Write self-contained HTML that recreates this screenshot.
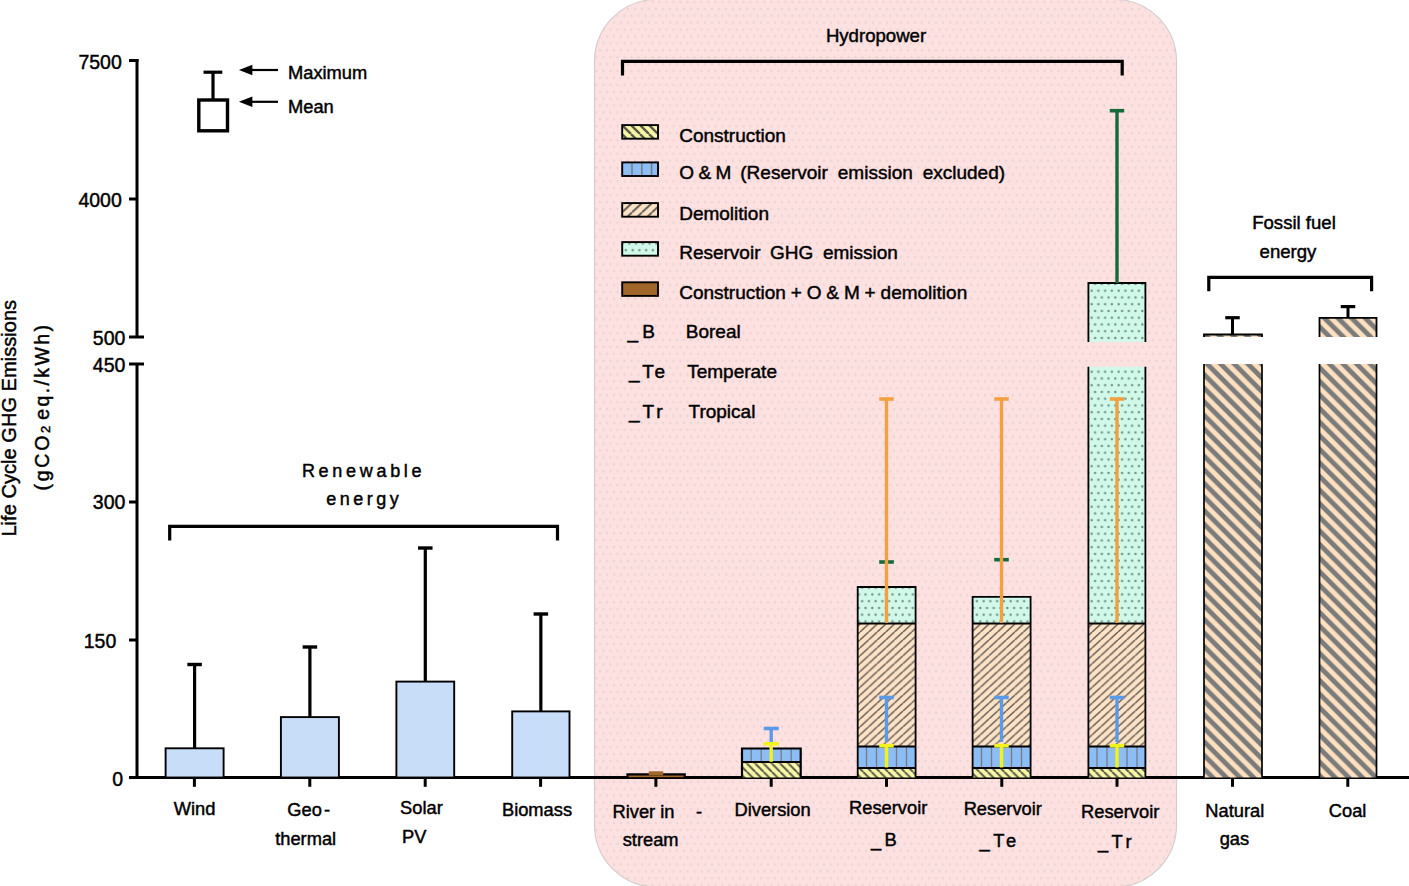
<!DOCTYPE html>
<html><head><meta charset="utf-8"><style>
html,body{margin:0;padding:0;background:#fff;width:1409px;height:886px;overflow:hidden}
svg text{font-family:"Liberation Sans", sans-serif;fill:#000;stroke:#000;stroke-width:0.45px}
</style></head><body>
<svg width="1409" height="886" viewBox="0 0 1409 886" style="position:absolute;left:0;top:0">
<defs>
 <pattern id="pinkdots" patternUnits="userSpaceOnUse" width="7" height="13.8">
  <rect width="7" height="13.8" fill="#fde1e1"/>
  <circle cx="1.5" cy="2" r="1.15" fill="#ebd4d4"/>
  <circle cx="5" cy="8.9" r="1.15" fill="#ebd4d4"/>
 </pattern>
 <pattern id="resdots" patternUnits="userSpaceOnUse" width="6.75" height="13.5" x="3.2" y="4.3">
  <rect width="6.75" height="13.5" fill="#d0f9ea"/>
  <circle cx="1.7" cy="3" r="1.2" fill="#71907f"/>
  <circle cx="5.1" cy="9.75" r="1.2" fill="#71907f"/>
 </pattern>
 <pattern id="demol" patternUnits="userSpaceOnUse" width="8.6" height="7.9">
  <rect width="8.6" height="7.9" fill="#fde2c5"/>
  <path d="M-8.6,7.9 L0,0 M0,7.9 L8.6,0 M8.6,7.9 L17.2,0" stroke="#625c56" stroke-width="1.45"/>
 </pattern>
 <pattern id="constr" patternUnits="userSpaceOnUse" width="8.3" height="8.3">
  <rect width="8.3" height="8.3" fill="#f7f7a8"/>
  <path d="M-8.3,0 L0,8.3 M0,0 L8.3,8.3 M8.3,0 L16.6,8.3" stroke="#5c5a48" stroke-width="2.0"/>
 </pattern>
 <pattern id="demolL" patternUnits="userSpaceOnUse" width="10" height="9.4" x="622" y="203">
  <rect width="10" height="9.4" fill="#fde2c5"/>
  <path d="M-10,9.4 L0,0 M0,9.4 L10,0 M10,9.4 L20,0" stroke="#625c56" stroke-width="1.9"/>
 </pattern>
 <pattern id="constrL" patternUnits="userSpaceOnUse" width="9" height="9" x="622" y="125">
  <rect width="9" height="9" fill="#f7f7a8"/>
  <path d="M-9,0 L0,9 M0,0 L9,9 M9,0 L18,9" stroke="#5c5a48" stroke-width="2.4"/>
 </pattern>
 <pattern id="fossil" patternUnits="userSpaceOnUse" width="13.6" height="13.6">
  <rect width="13.6" height="13.6" fill="#fde0bf"/>
  <path d="M-3,-3 L16.6,16.6 M-3,10.6 L3,16.6 M10.6,-3 L16.6,3" stroke="#7b7b7b" stroke-width="4.8"/>
 </pattern>
</defs>
<rect x="594.5" y="-0.5" width="582" height="887.5" rx="62" ry="62" fill="url(#pinkdots)" stroke="#d6cccc" stroke-width="1.2"/><line x1="137" y1="59" x2="137" y2="337" stroke="#000" stroke-width="3" stroke-linecap="butt"/><line x1="129" y1="60.5" x2="138.5" y2="60.5" stroke="#000" stroke-width="3" stroke-linecap="butt"/><line x1="129" y1="199" x2="137" y2="199" stroke="#000" stroke-width="3" stroke-linecap="butt"/><line x1="129" y1="337" x2="144" y2="337" stroke="#000" stroke-width="3" stroke-linecap="butt"/><line x1="129" y1="364" x2="144" y2="364" stroke="#000" stroke-width="3" stroke-linecap="butt"/><line x1="137" y1="364" x2="137" y2="779" stroke="#000" stroke-width="3" stroke-linecap="butt"/><line x1="129" y1="502" x2="137" y2="502" stroke="#000" stroke-width="3" stroke-linecap="butt"/><line x1="129" y1="640" x2="137" y2="640" stroke="#000" stroke-width="3" stroke-linecap="butt"/><line x1="129" y1="777.5" x2="1409" y2="777.5" stroke="#000" stroke-width="3" stroke-linecap="butt"/><text x="121.8" y="68.9" font-size="19.5" text-anchor="end" >7500</text><text x="121.8" y="206.9" font-size="19.5" text-anchor="end" >4000</text><text x="125.4" y="344.8" font-size="19.5" text-anchor="end" >500</text><text x="125.4" y="371.8" font-size="19.5" text-anchor="end" >450</text><text x="125.4" y="508.7" font-size="19.5" text-anchor="end" >300</text><text x="116.3" y="648" font-size="19.5" text-anchor="end" >150</text><text x="123.1" y="786" font-size="19.5" text-anchor="end" >0</text><line x1="203.5" y1="72.2" x2="222.3" y2="72.2" stroke="#000" stroke-width="3.2" stroke-linecap="butt"/><line x1="213" y1="72" x2="213" y2="100" stroke="#000" stroke-width="3.2" stroke-linecap="butt"/><rect x="198.8" y="100" width="28.7" height="30.8" fill="none" stroke="#000" stroke-width="3.4"/><path d="M238.9,70 L252.4,64.8 L252.4,75.2 Z" fill="#000"/><line x1="250" y1="70" x2="278" y2="70" stroke="#000" stroke-width="2.2" stroke-linecap="butt"/><path d="M238.9,101.8 L252.4,96.6 L252.4,107.0 Z" fill="#000"/><line x1="250" y1="101.8" x2="278" y2="101.8" stroke="#000" stroke-width="2.2" stroke-linecap="butt"/><text x="288" y="79.1" font-size="18.3" text-anchor="start" >Maximum</text><text x="288" y="112.5" font-size="18.3" text-anchor="start" >Mean</text><path d="M169.7,540.5 L169.7,526.4 L557.5,526.4 L557.5,540.5" fill="none" stroke="#000" stroke-width="3.2"/><path d="M622.5,75.5 L622.5,61.3 L1122.2,61.3 L1122.2,75.5" fill="none" stroke="#000" stroke-width="3.2"/><path d="M1208.8,291.3 L1208.8,277.4 L1371.6,277.4 L1371.6,291.3" fill="none" stroke="#000" stroke-width="3.2"/><text x="363.6" y="476.6" font-size="18" text-anchor="middle" letter-spacing="3.7">Renewable</text><text x="364.2" y="505.4" font-size="18" text-anchor="middle" letter-spacing="3.5">energy</text><text x="876" y="41.7" font-size="18.6" text-anchor="middle" >Hydropower</text><text x="1294" y="229.2" font-size="18.6" text-anchor="middle" >Fossil fuel</text><text x="1288" y="257.7" font-size="18.6" text-anchor="middle" >energy</text><line x1="194.6" y1="664.5" x2="194.6" y2="748.3" stroke="#000" stroke-width="3.2" stroke-linecap="butt"/><line x1="187.35" y1="664.5" x2="201.85" y2="664.5" stroke="#000" stroke-width="3.4" stroke-linecap="butt"/><rect x="165.6" y="748.3" width="58.0" height="29.2" fill="#c8def8" stroke="#000" stroke-width="1.9"/><line x1="309.9" y1="647" x2="309.9" y2="717.1" stroke="#000" stroke-width="3.2" stroke-linecap="butt"/><line x1="302.65" y1="647" x2="317.15" y2="647" stroke="#000" stroke-width="3.4" stroke-linecap="butt"/><rect x="280.9" y="717.1" width="58.0" height="60.4" fill="#c8def8" stroke="#000" stroke-width="1.9"/><line x1="425.3" y1="548" x2="425.3" y2="681.6" stroke="#000" stroke-width="3.2" stroke-linecap="butt"/><line x1="418.05" y1="548" x2="432.55" y2="548" stroke="#000" stroke-width="3.4" stroke-linecap="butt"/><rect x="396.4" y="681.6" width="57.8" height="95.9" fill="#c8def8" stroke="#000" stroke-width="1.9"/><line x1="540.85" y1="614" x2="540.85" y2="711.4" stroke="#000" stroke-width="3.2" stroke-linecap="butt"/><line x1="533.6" y1="614" x2="548.1" y2="614" stroke="#000" stroke-width="3.4" stroke-linecap="butt"/><rect x="512.2" y="711.4" width="57.3" height="66.1" fill="#c8def8" stroke="#000" stroke-width="1.9"/><line x1="194.4" y1="777.5" x2="194.4" y2="786.8" stroke="#000" stroke-width="3" stroke-linecap="butt"/><line x1="309.8" y1="777.5" x2="309.8" y2="786.8" stroke="#000" stroke-width="3" stroke-linecap="butt"/><line x1="425.2" y1="777.5" x2="425.2" y2="786.8" stroke="#000" stroke-width="3" stroke-linecap="butt"/><line x1="540.6" y1="777.5" x2="540.6" y2="786.8" stroke="#000" stroke-width="3" stroke-linecap="butt"/><line x1="655.9" y1="777.5" x2="655.9" y2="786.8" stroke="#000" stroke-width="3" stroke-linecap="butt"/><line x1="771.2" y1="777.5" x2="771.2" y2="786.8" stroke="#000" stroke-width="3" stroke-linecap="butt"/><line x1="886.5" y1="777.5" x2="886.5" y2="786.8" stroke="#000" stroke-width="3" stroke-linecap="butt"/><line x1="1001.8" y1="777.5" x2="1001.8" y2="786.8" stroke="#000" stroke-width="3" stroke-linecap="butt"/><line x1="1117" y1="777.5" x2="1117" y2="786.8" stroke="#000" stroke-width="3" stroke-linecap="butt"/><line x1="1232.5" y1="777.5" x2="1232.5" y2="786.8" stroke="#000" stroke-width="3" stroke-linecap="butt"/><line x1="1347.8" y1="777.5" x2="1347.8" y2="786.8" stroke="#000" stroke-width="3" stroke-linecap="butt"/><rect x="627.5" y="775" width="57.2" height="2.2" fill="#a0662a"/><path d="M627.5,777.5 L627.5,774.3 L684.7,774.3 L684.7,777.5" fill="none" stroke="#000" stroke-width="2.2"/><rect x="648.8" y="771.3" width="14.4" height="4.1" fill="#a0662a"/><rect x="742" y="762" width="58.7" height="15.5" fill="url(#constr)"/><rect x="742" y="748.5" width="58.7" height="13.5" fill="#8cbdf5"/><line x1="751.2" y1="748.5" x2="751.2" y2="762" stroke="#767c86" stroke-width="1.3" stroke-linecap="butt"/><line x1="761.2" y1="748.5" x2="761.2" y2="762" stroke="#767c86" stroke-width="1.3" stroke-linecap="butt"/><line x1="771.2" y1="748.5" x2="771.2" y2="762" stroke="#767c86" stroke-width="1.3" stroke-linecap="butt"/><line x1="781.2" y1="748.5" x2="781.2" y2="762" stroke="#767c86" stroke-width="1.3" stroke-linecap="butt"/><line x1="791.2" y1="748.5" x2="791.2" y2="762" stroke="#767c86" stroke-width="1.3" stroke-linecap="butt"/><path d="M742,777.5 L742,748.5 L800.7,748.5 L800.7,777.5" fill="none" stroke="#000" stroke-width="2.2"/><line x1="742" y1="762" x2="800.7" y2="762" stroke="#000" stroke-width="2" stroke-linecap="butt"/><line x1="771.2" y1="728.5" x2="771.2" y2="742" stroke="#5a9ae6" stroke-width="3.4" stroke-linecap="butt"/><line x1="763.7" y1="728.5" x2="778.7" y2="728.5" stroke="#5a9ae6" stroke-width="3.6" stroke-linecap="butt"/><line x1="771.2" y1="743.8" x2="771.2" y2="761.8" stroke="#f2f21e" stroke-width="3.4" stroke-linecap="butt"/><line x1="763.45" y1="743.8" x2="778.95" y2="743.8" stroke="#f2f21e" stroke-width="3.6" stroke-linecap="butt"/><rect x="857.7" y="768" width="57.9" height="9.5" fill="url(#constr)"/><rect x="857.7" y="746.5" width="57.9" height="21.5" fill="#8cbdf5"/><line x1="866.5" y1="746.5" x2="866.5" y2="768" stroke="#767c86" stroke-width="1.3" stroke-linecap="butt"/><line x1="876.5" y1="746.5" x2="876.5" y2="768" stroke="#767c86" stroke-width="1.3" stroke-linecap="butt"/><line x1="886.5" y1="746.5" x2="886.5" y2="768" stroke="#767c86" stroke-width="1.3" stroke-linecap="butt"/><line x1="896.5" y1="746.5" x2="896.5" y2="768" stroke="#767c86" stroke-width="1.3" stroke-linecap="butt"/><line x1="906.5" y1="746.5" x2="906.5" y2="768" stroke="#767c86" stroke-width="1.3" stroke-linecap="butt"/><rect x="857.7" y="623.5" width="57.9" height="123" fill="url(#demol)"/><rect x="857.7" y="587" width="57.9" height="36.5" fill="url(#resdots)"/><path d="M857.7,777.5 L857.7,587 L915.6,587 L915.6,777.5" fill="none" stroke="#000" stroke-width="1.8"/><line x1="857.7" y1="768" x2="915.6" y2="768" stroke="#000" stroke-width="2" stroke-linecap="butt"/><line x1="857.7" y1="746.5" x2="915.6" y2="746.5" stroke="#000" stroke-width="2" stroke-linecap="butt"/><line x1="857.7" y1="623.5" x2="915.6" y2="623.5" stroke="#000" stroke-width="2" stroke-linecap="butt"/><line x1="879.2" y1="562" x2="893.8" y2="562" stroke="#156a3c" stroke-width="3.6" stroke-linecap="butt"/><line x1="886.5" y1="399" x2="886.5" y2="623" stroke="#f2a040" stroke-width="3.4" stroke-linecap="butt"/><line x1="879.25" y1="399" x2="893.75" y2="399" stroke="#f2a040" stroke-width="3.6" stroke-linecap="butt"/><line x1="886.5" y1="697.5" x2="886.5" y2="742" stroke="#5a9ae6" stroke-width="3.4" stroke-linecap="butt"/><line x1="879.25" y1="697.5" x2="893.75" y2="697.5" stroke="#5a9ae6" stroke-width="3.6" stroke-linecap="butt"/><line x1="886.5" y1="745.7" x2="886.5" y2="767.5" stroke="#f2f21e" stroke-width="3.4" stroke-linecap="butt"/><line x1="879.25" y1="745.7" x2="893.75" y2="745.7" stroke="#f2f21e" stroke-width="3.6" stroke-linecap="butt"/><rect x="972.6" y="768" width="58" height="9.5" fill="url(#constr)"/><rect x="972.6" y="746.5" width="58" height="21.5" fill="#8cbdf5"/><line x1="981.5" y1="746.5" x2="981.5" y2="768" stroke="#767c86" stroke-width="1.3" stroke-linecap="butt"/><line x1="991.5" y1="746.5" x2="991.5" y2="768" stroke="#767c86" stroke-width="1.3" stroke-linecap="butt"/><line x1="1001.5" y1="746.5" x2="1001.5" y2="768" stroke="#767c86" stroke-width="1.3" stroke-linecap="butt"/><line x1="1011.5" y1="746.5" x2="1011.5" y2="768" stroke="#767c86" stroke-width="1.3" stroke-linecap="butt"/><line x1="1021.5" y1="746.5" x2="1021.5" y2="768" stroke="#767c86" stroke-width="1.3" stroke-linecap="butt"/><rect x="972.6" y="623.5" width="58" height="123" fill="url(#demol)"/><rect x="972.6" y="596.8" width="58" height="26.7" fill="url(#resdots)"/><path d="M972.6,777.5 L972.6,596.8 L1030.6,596.8 L1030.6,777.5" fill="none" stroke="#000" stroke-width="1.8"/><line x1="972.6" y1="768" x2="1030.6" y2="768" stroke="#000" stroke-width="2" stroke-linecap="butt"/><line x1="972.6" y1="746.5" x2="1030.6" y2="746.5" stroke="#000" stroke-width="2" stroke-linecap="butt"/><line x1="972.6" y1="623.5" x2="1030.6" y2="623.5" stroke="#000" stroke-width="2" stroke-linecap="butt"/><line x1="994.2" y1="559.7" x2="1008.8" y2="559.7" stroke="#156a3c" stroke-width="3.6" stroke-linecap="butt"/><line x1="1001.5" y1="399" x2="1001.5" y2="623" stroke="#f2a040" stroke-width="3.4" stroke-linecap="butt"/><line x1="994.25" y1="399" x2="1008.75" y2="399" stroke="#f2a040" stroke-width="3.6" stroke-linecap="butt"/><line x1="1001.5" y1="697.5" x2="1001.5" y2="742" stroke="#5a9ae6" stroke-width="3.4" stroke-linecap="butt"/><line x1="994.25" y1="697.5" x2="1008.75" y2="697.5" stroke="#5a9ae6" stroke-width="3.6" stroke-linecap="butt"/><line x1="1001.5" y1="745.7" x2="1001.5" y2="767.5" stroke="#f2f21e" stroke-width="3.4" stroke-linecap="butt"/><line x1="994.25" y1="745.7" x2="1008.75" y2="745.7" stroke="#f2f21e" stroke-width="3.6" stroke-linecap="butt"/><rect x="1088.4" y="768" width="57.0" height="9.5" fill="url(#constr)"/><rect x="1088.4" y="746.5" width="57.0" height="21.5" fill="#8cbdf5"/><line x1="1097" y1="746.5" x2="1097" y2="768" stroke="#767c86" stroke-width="1.3" stroke-linecap="butt"/><line x1="1107" y1="746.5" x2="1107" y2="768" stroke="#767c86" stroke-width="1.3" stroke-linecap="butt"/><line x1="1117" y1="746.5" x2="1117" y2="768" stroke="#767c86" stroke-width="1.3" stroke-linecap="butt"/><line x1="1127" y1="746.5" x2="1127" y2="768" stroke="#767c86" stroke-width="1.3" stroke-linecap="butt"/><line x1="1137" y1="746.5" x2="1137" y2="768" stroke="#767c86" stroke-width="1.3" stroke-linecap="butt"/><rect x="1088.4" y="623.5" width="57.0" height="123" fill="url(#demol)"/><rect x="1088.4" y="366.8" width="57.0" height="256.7" fill="url(#resdots)"/><rect x="1088.4" y="283" width="57.0" height="59" fill="url(#resdots)"/><path d="M1088.4,777.5 L1088.4,366.8 M1145.4,366.8 L1145.4,777.5" fill="none" stroke="#000" stroke-width="1.8"/><path d="M1088.4,342 L1088.4,283 L1145.4,283 L1145.4,342" fill="none" stroke="#000" stroke-width="1.8"/><line x1="1088.4" y1="768" x2="1145.4" y2="768" stroke="#000" stroke-width="2" stroke-linecap="butt"/><line x1="1088.4" y1="746.5" x2="1145.4" y2="746.5" stroke="#000" stroke-width="2" stroke-linecap="butt"/><line x1="1088.4" y1="623.5" x2="1145.4" y2="623.5" stroke="#000" stroke-width="2" stroke-linecap="butt"/><line x1="1117" y1="110.7" x2="1117" y2="283" stroke="#156a3c" stroke-width="3.4" stroke-linecap="butt"/><line x1="1109.75" y1="110.7" x2="1124.25" y2="110.7" stroke="#156a3c" stroke-width="3.6" stroke-linecap="butt"/><line x1="1117" y1="399" x2="1117" y2="623" stroke="#f2a040" stroke-width="3.4" stroke-linecap="butt"/><line x1="1109.75" y1="399" x2="1124.25" y2="399" stroke="#f2a040" stroke-width="3.6" stroke-linecap="butt"/><line x1="1117" y1="697.5" x2="1117" y2="742" stroke="#5a9ae6" stroke-width="3.4" stroke-linecap="butt"/><line x1="1109.75" y1="697.5" x2="1124.25" y2="697.5" stroke="#5a9ae6" stroke-width="3.6" stroke-linecap="butt"/><line x1="1117" y1="745.7" x2="1117" y2="767.5" stroke="#f2f21e" stroke-width="3.4" stroke-linecap="butt"/><line x1="1109.75" y1="745.7" x2="1124.25" y2="745.7" stroke="#f2f21e" stroke-width="3.6" stroke-linecap="butt"/><line x1="1232.5" y1="317.7" x2="1232.5" y2="334.5" stroke="#000" stroke-width="3" stroke-linecap="butt"/><line x1="1225.25" y1="317.7" x2="1239.75" y2="317.7" stroke="#000" stroke-width="3.2" stroke-linecap="butt"/><rect x="1204" y="334.5" width="58" height="2.5" fill="url(#fossil)"/><path d="M1204,337 L1204,334.5 L1262,334.5 L1262,337" fill="none" stroke="#000" stroke-width="1.8"/><rect x="1204" y="364" width="58" height="413.5" fill="url(#fossil)"/><path d="M1204,364 L1204,777.5 M1262,364 L1262,777.5" fill="none" stroke="#000" stroke-width="1.7"/><line x1="1348" y1="306.6" x2="1348" y2="317.8" stroke="#000" stroke-width="3" stroke-linecap="butt"/><line x1="1340.75" y1="306.6" x2="1355.25" y2="306.6" stroke="#000" stroke-width="3.2" stroke-linecap="butt"/><rect x="1319.5" y="317.8" width="57.0" height="19.2" fill="url(#fossil)"/><path d="M1319.5,337 L1319.5,317.8 L1376.5,317.8 L1376.5,337" fill="none" stroke="#000" stroke-width="1.8"/><rect x="1319.5" y="364" width="57.0" height="413.5" fill="url(#fossil)"/><path d="M1319.5,364 L1319.5,777.5 M1376.5,364 L1376.5,777.5" fill="none" stroke="#000" stroke-width="1.7"/><rect x="622.2" y="125.1" width="35.8" height="13.6" fill="url(#constrL)"/><rect x="622.2" y="125.1" width="35.8" height="13.6" fill="none" stroke="#000" stroke-width="1.9"/><text x="679.2" y="142.0" font-size="19" text-anchor="start" >Construction</text><rect x="622.2" y="162.4" width="35.8" height="13.6" fill="#8cbdf5"/><line x1="632" y1="162.4" x2="632" y2="176.0" stroke="#767c86" stroke-width="1.5" stroke-linecap="butt"/><line x1="641.8" y1="162.4" x2="641.8" y2="176.0" stroke="#767c86" stroke-width="1.5" stroke-linecap="butt"/><line x1="651.6" y1="162.4" x2="651.6" y2="176.0" stroke="#767c86" stroke-width="1.5" stroke-linecap="butt"/><rect x="622.2" y="162.4" width="35.8" height="13.6" fill="none" stroke="#000" stroke-width="1.9"/><text x="679.2" y="179.3" font-size="19" text-anchor="start" ><tspan word-spacing="-0.8">O &amp; M</tspan><tspan x="740.3" word-spacing="4.6">(Reservoir emission excluded)</tspan></text><rect x="622.2" y="203.1" width="35.8" height="13.6" fill="url(#demolL)"/><rect x="622.2" y="203.1" width="35.8" height="13.6" fill="none" stroke="#000" stroke-width="1.9"/><text x="679.2" y="220.0" font-size="19" text-anchor="start" >Demolition</text><rect x="622.2" y="242.1" width="35.8" height="13.6" fill="url(#resdots)"/><rect x="622.2" y="242.1" width="35.8" height="13.6" fill="none" stroke="#000" stroke-width="1.9"/><text x="679.2" y="259.0" font-size="19" text-anchor="start" word-spacing="-0.5">Reservoir&#160; GHG&#160; emission</text><rect x="622.2" y="282.3" width="35.8" height="13.6" fill="#a0662a"/><rect x="622.2" y="282.3" width="35.8" height="13.6" fill="none" stroke="#000" stroke-width="1.9"/><text x="679.2" y="299.2" font-size="19" text-anchor="start" word-spacing="-0.4">Construction + O &amp; M + demolition</text><text x="627.6" y="338.4" font-size="19" text-anchor="start" letter-spacing="4">_B</text><text x="685.8" y="338.4" font-size="19" text-anchor="start" >Boreal</text><text x="629" y="378.4" font-size="19" text-anchor="start" letter-spacing="2.75">_Te</text><text x="687.2" y="378.4" font-size="19" text-anchor="start" >Temperate</text><text x="629" y="417.7" font-size="19" text-anchor="start" letter-spacing="2.9">_Tr</text><text x="688.5" y="417.7" font-size="19" text-anchor="start" >Tropical</text><text x="194.6" y="815.3" font-size="18.3" text-anchor="middle" >Wind</text><text x="287.3" y="816.1" font-size="18.3" text-anchor="start" >Ge<tspan letter-spacing="2.2">o</tspan>-</text><text x="305.7" y="844.7" font-size="18.3" text-anchor="middle" >thermal</text><text x="421.4" y="814.2" font-size="18.3" text-anchor="middle" >Solar</text><text x="414.2" y="843.1" font-size="18.3" text-anchor="middle" >PV</text><text x="537" y="815.8" font-size="18.3" text-anchor="middle" >Biomass</text><text x="643.5" y="818.1" font-size="18.3" text-anchor="middle" >River in</text><text x="699" y="818.1" font-size="18.3" text-anchor="middle" >-</text><text x="650.6" y="846.3" font-size="18.3" text-anchor="middle" >stream</text><text x="772.6" y="815.8" font-size="18.3" text-anchor="middle" >Diversion</text><text x="888.2" y="814.1" font-size="18.3" text-anchor="middle" >Reservoir</text><text x="871" y="846" font-size="18.3" text-anchor="start" letter-spacing="3.4">_B</text><text x="1002.8" y="815.3" font-size="18.3" text-anchor="middle" >Reservoir</text><text x="979.6" y="846.7" font-size="18.3" text-anchor="start" letter-spacing="3.6">_Te</text><text x="1120.2" y="817.8" font-size="18.3" text-anchor="middle" >Reservoir</text><text x="1097.9" y="847.9" font-size="18.3" text-anchor="start" letter-spacing="3.45">_Tr</text><text x="1234.8" y="816.8" font-size="18.3" text-anchor="middle" >Natural</text><text x="1234.4" y="845.3" font-size="18.3" text-anchor="middle" >gas</text><text x="1347.6" y="816.8" font-size="18.3" text-anchor="middle" >Coal</text><g transform="translate(15.8,418.2) rotate(-90)"><text x="0" y="0" font-size="20.1" text-anchor="middle">Life Cycle GHG Emissions</text></g><g transform="translate(48.8,406.5) rotate(-90)"><text x="0" y="0" font-size="19.5" text-anchor="middle" letter-spacing="2.7">(gCO<tspan font-size="13" dy="1" letter-spacing="5.9">2</tspan><tspan dy="-1" letter-spacing="2.4">eq./kWh)</tspan></text></g></svg>
</body></html>
